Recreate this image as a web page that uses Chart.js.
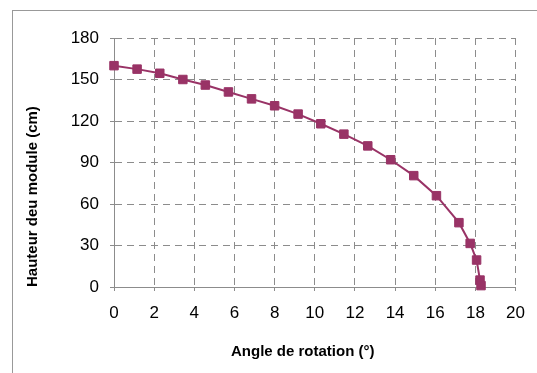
<!DOCTYPE html>
<html>
<head>
<meta charset="utf-8">
<script src="https://cdn.jsdelivr.net/npm/chart.js@4.4.1/dist/chart.umd.min.js"></script>
<style>
  html, body { margin: 0; padding: 0; background: #fff; overflow: hidden; }
  #wrap { position: relative; width: 537px; height: 373px; }
  #frame { position: absolute; left: 12px; top: 10px; width: 600px; height: 400px; border: 1px solid #999; box-sizing: border-box; }
  canvas { position: absolute; left: 0; top: 0; }
</style>
</head>
<body>
<div id="wrap">
  <div id="frame"></div>
  <canvas id="myChart" width="537" height="373"></canvas>
</div>
<script>
// angle de rotation (deg) et hauteur du module (cm)
const angles = [0, 1.15, 2.28, 3.43, 4.55, 5.7, 6.85, 8.0, 9.17, 10.3, 11.45, 12.64, 13.78, 14.93, 16.06, 17.18, 17.74, 18.06, 18.23, 18.28];
const hauteurs = [160, 157.5, 154.5, 150, 146, 141, 136, 131, 125, 118, 110.5, 102, 92, 80.5, 66, 46.5, 31.5, 19.5, 5, 1];
const xTitle = 'Angle de rotation (°)';
const yTitle = 'Hauteur deu module (cm)';

const points = angles.map((a, i) => ({ x: a, y: hauteurs[i] }));

// titre de l'axe x un peu decale a gauche comme dans excel
const xTitlePlugin = {
  id: 'xTitle',
  afterDraw(chart) {
    const c = chart.ctx;
    const area = chart.chartArea;
    c.save();
    c.font = 'bold 15px "Liberation Sans", Arial, sans-serif';
    c.fillStyle = '#000';
    c.textAlign = 'center';
    c.textBaseline = 'middle';
    c.fillText(xTitle, (area.left + area.right) / 2 - 12, 352);
    c.restore();
  }
};

const config = {
  type: 'scatter',
  data: {
    datasets: [{
      data: points,
      showLine: true,
      clip: false,
      borderColor: '#993366',
      backgroundColor: '#993366',
      borderWidth: 2,
      pointStyle: 'rect',
      pointRadius: 6,
      pointBorderWidth: 1,
      pointBorderColor: '#993366',
      pointBackgroundColor: '#993366',
      tension: 0
    }]
  },
  options: {
    responsive: false,
    animation: false,
    layout: { padding: { left: 0, top: 38, right: 19, bottom: 0 } },
    plugins: {
      legend: { display: false },
      tooltip: { enabled: false }
    },
    scales: {
      x: {
        type: 'linear',
        min: 0,
        max: 20,
        afterFit: (s) => { s.height = 86; },
        ticks: {
          stepSize: 2,
          color: '#000',
          padding: 12,
          maxRotation: 0,
          font: { family: '"Liberation Sans", Arial, sans-serif', size: 17 }
        },
        grid: {
          color: '#8c8c8c',
          lineWidth: 1,
          tickLength: 4,
          tickColor: '#8c8c8c',
          tickBorderDash: []
        },
        border: { display: true, color: '#8c8c8c', width: 1, dash: [7, 5] }
      },
      y: {
        min: 0,
        max: 180,
        afterFit: (s) => { s.width = 114; },
        ticks: {
          stepSize: 30,
          color: '#000',
          padding: 11,
          font: { family: '"Liberation Sans", Arial, sans-serif', size: 17 }
        },
        grid: {
          color: '#8c8c8c',
          lineWidth: 1,
          tickLength: 4,
          tickColor: '#8c8c8c',
          tickBorderDash: []
        },
        border: { display: true, color: '#8c8c8c', width: 1, dash: [7, 5] },
        title: {
          display: true,
          text: yTitle,
          align: 'start',
          color: '#000',
          padding: { top: 24, bottom: 0 },
          font: { family: '"Liberation Sans", Arial, sans-serif', size: 15, weight: 'bold' }
        }
      }
    }
  },
  plugins: [xTitlePlugin]
};

var ctx = document.getElementById('myChart').getContext('2d');
grafica = new Chart(ctx, config);
</script>
</body>
</html>
